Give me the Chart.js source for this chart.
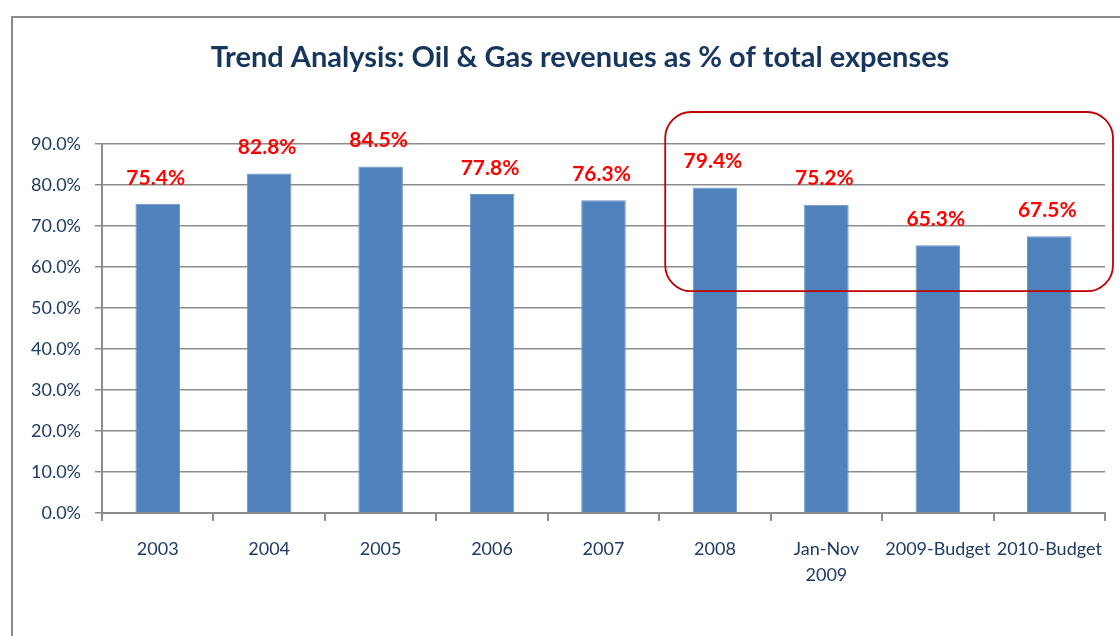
<!DOCTYPE html>
<html>
<head>
<meta charset="utf-8">
<script src="https://cdn.jsdelivr.net/npm/chart.js@4/dist/chart.umd.min.js"></script>
<style>
  html, body { margin: 0; padding: 0; background: #fff; }
  #wrap { width: 1120px; height: 636px; position: relative; }
</style>
</head>
<body>
<div id="wrap"><canvas id="chart1"></canvas></div>
<script>
// data
var chartTitle = 'Trend Analysis: Oil & Gas revenues as % of total expenses';
var categories = ['2003', '2004', '2005', '2006', '2007', '2008', ['Jan-Nov', '2009'], '2009-Budget', '2010-Budget'];
var revenueShare = [75.4, 82.8, 84.5, 77.8, 76.3, 79.4, 75.2, 65.3, 67.5];
var yTicks = [0, 10, 20, 30, 40, 50, 60, 70, 80, 90];
var highlightFrom = 5; // index of '2008', box runs to the last bar

var fontFamily = 'Lato, "Open Sans", sans-serif';
var navy = '#1F3B63';

// title, red value labels over the bars, outer frame and the rounded highlight box
var extrasPlugin = {
    id: 'extras',
    afterDraw: function (chart) {
        var ctx = chart.ctx;
        var xs = chart.scales.x, ys = chart.scales.y;
        var meta = chart.getDatasetMeta(0);

        ctx.save();
        ctx.textAlign = 'center';
        ctx.textBaseline = 'middle';

        ctx.fillStyle = '#17365D';
        ctx.font = 'bold 29px ' + fontFamily;
        ctx.fillText(chartTitle, 580, 58);

        ctx.fillStyle = '#FF0000';
        ctx.font = 'bold 21px ' + fontFamily;
        meta.data.forEach(function (bar, i) {
            ctx.fillText(revenueShare[i].toFixed(1) + '%', bar.x - 2, bar.y - 26);
        });

        // frame
        ctx.strokeStyle = '#8C8C8C';
        ctx.lineWidth = 2;
        ctx.beginPath();
        ctx.moveTo(12, chart.height);
        ctx.lineTo(12, 17);
        ctx.lineTo(chart.width, 17);
        ctx.stroke();

        // highlight box
        var step = (xs.right - xs.left) / categories.length;
        var left = xs.left + step * highlightFrom + 6;
        var right = xs.right + 8;
        var top = ys.getPixelForValue(97.8);
        var bottom = ys.getPixelForValue(54.1);
        var r = 26;
        ctx.strokeStyle = '#C00000';
        ctx.lineWidth = 1.8;
        ctx.beginPath();
        ctx.moveTo(left + r, top);
        ctx.arcTo(right, top, right, bottom, r);
        ctx.arcTo(right, bottom, left, bottom, r);
        ctx.arcTo(left, bottom, left, top, r);
        ctx.arcTo(left, top, right, top, r);
        ctx.closePath();
        ctx.stroke();
        ctx.restore();
    }
};

var ctx1 = document.getElementById('chart1').getContext('2d');
window.myBar = new Chart(ctx1, {
    type: 'bar',
    data: {
        labels: categories,
        datasets: [{
            label: chartTitle,
            data: revenueShare,
            backgroundColor: '#4F81BD',
            borderColor: '#6C96C8',
            borderWidth: 1,
            categoryPercentage: 1.0,
            barPercentage: 0.4
        }]
    },
    options: {
        responsive: true,
        maintainAspectRatio: false,
        animation: false,
        layout: { padding: { left: 0, right: 15, top: 144, bottom: 0 } },
        plugins: {
            legend: { display: false },
            tooltip: { enabled: false },
            title: { display: false }
        },
        scales: {
            x: {
                grid: {
                    display: true,
                    drawOnChartArea: false,
                    tickLength: 8,
                    color: '#8C8C8C',
                    lineWidth: 2
                },
                border: { color: '#8C8C8C', width: 2 },
                ticks: {
                    color: navy,
                    font: { family: fontFamily, size: 18, lineHeight: 1.4 },
                    padding: 16,
                    maxRotation: 0,
                    autoSkip: false
                },
                afterFit: function (scale) { scale.height = 123; }
            },
            y: {
                min: 0,
                max: 90,
                afterBuildTicks: function (scale) {
                    scale.ticks = yTicks.map(function (v) { return { value: v }; });
                },
                grid: {
                    color: '#8C8C8C',
                    lineWidth: 1.5,
                    tickLength: 7
                },
                border: { color: '#8C8C8C', width: 2 },
                ticks: {
                    color: navy,
                    font: { family: fontFamily, size: 18 },
                    padding: 14,
                    callback: function (v) { return v.toFixed(1) + '%'; }
                },
                afterFit: function (scale) { scale.width = 102; }
            }
        }
    },
    plugins: [extrasPlugin]
});
</script>
</body>
</html>
